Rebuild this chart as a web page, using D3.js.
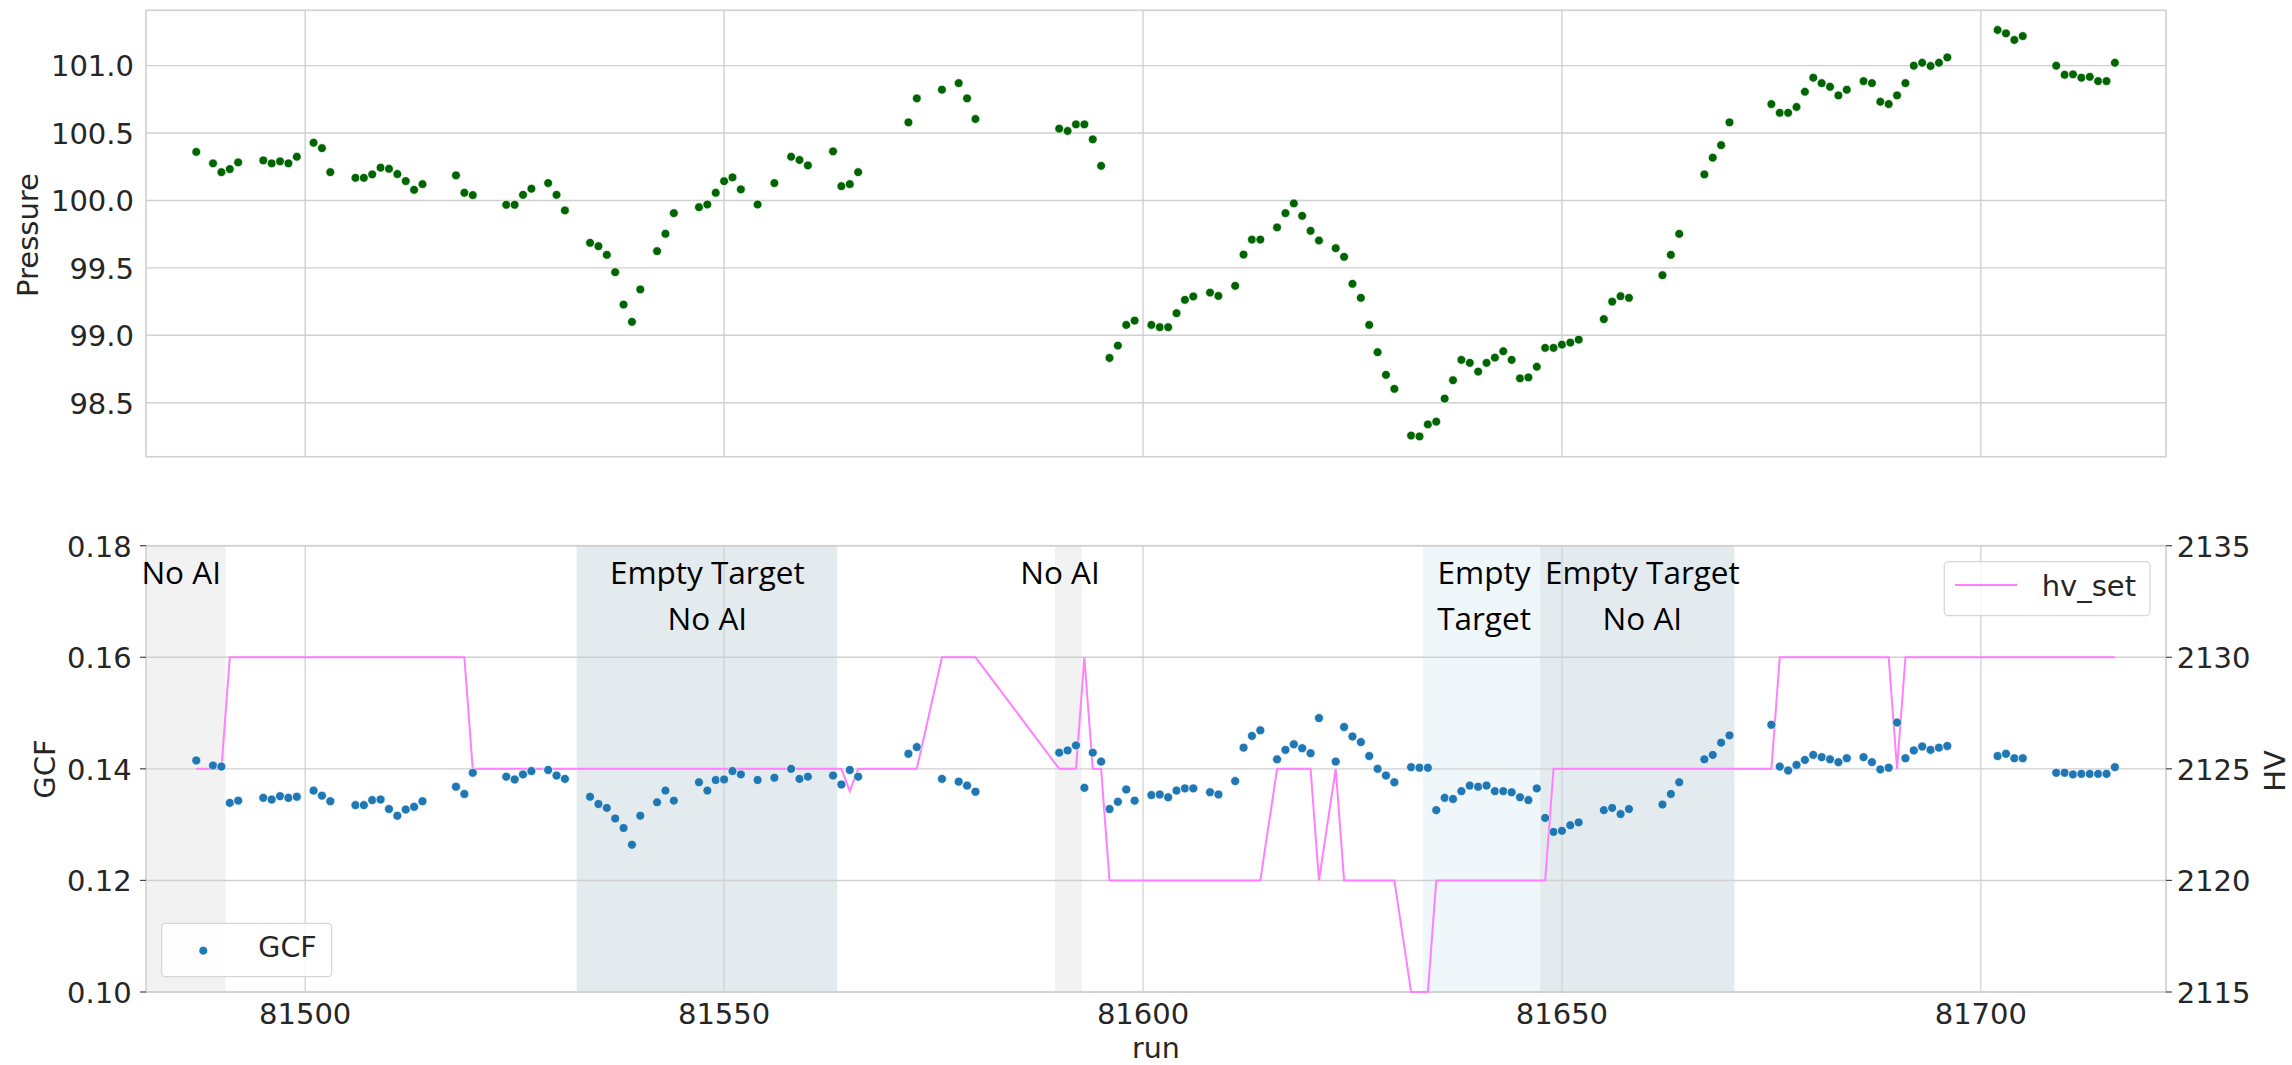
<!DOCTYPE html>
<html>
<head>
<meta charset="utf-8">
<script src="https://cdn.jsdelivr.net/npm/d3@7"></script>
<style>
  html, body { margin: 0; padding: 0; background: #ffffff; }
  svg { display: block; }
</style>
</head>
<body>
<svg id="chart" width="2292" height="1065"></svg>
<script>
// ---------------- DATA ----------------
const runs = [
  81487, 81489, 81490, 81491, 81492, 81495, 81496, 81497, 81498, 81499,
  81501, 81502, 81503, 81506, 81507, 81508, 81509, 81510, 81511, 81512,
  81513, 81514, 81518, 81519, 81520, 81524, 81525, 81526, 81527, 81529,
  81530, 81531, 81534, 81535, 81536, 81537, 81538, 81539, 81540, 81542,
  81543, 81544, 81547, 81548, 81549, 81550, 81551, 81552, 81554, 81556,
  81558, 81559, 81560, 81563, 81564, 81565, 81566, 81572, 81573, 81576,
  81578, 81579, 81580, 81590, 81591, 81592, 81593, 81594, 81595, 81596,
  81597, 81598, 81599, 81601, 81602, 81603, 81604, 81605, 81606, 81608,
  81609, 81611, 81612, 81613, 81614, 81616, 81617, 81618, 81619, 81620,
  81621, 81623, 81624, 81625, 81626, 81627, 81628, 81629, 81630, 81632,
  81633, 81634, 81635, 81636, 81637, 81638, 81639, 81640, 81641, 81642,
  81643, 81644, 81645, 81646, 81647, 81648, 81649, 81650, 81651, 81652,
  81655, 81656, 81657, 81658, 81662, 81663, 81664, 81667, 81668, 81669,
  81670, 81675, 81676, 81677, 81678, 81679, 81680, 81681, 81682, 81683,
  81684, 81686, 81687, 81688, 81689, 81690, 81691, 81692, 81693, 81694,
  81695, 81696, 81702, 81703, 81704, 81705, 81709, 81710, 81711, 81712,
  81713, 81714, 81715, 81716
];

const pressure = [
  100.36, 100.275, 100.21, 100.233, 100.282, 100.297, 100.275, 100.29, 100.275, 100.324,
  100.428, 100.388, 100.21, 100.168, 100.168, 100.193, 100.243, 100.235, 100.196, 100.144,
  100.079, 100.121, 100.186, 100.057, 100.04, 99.968, 99.968, 100.042, 100.087, 100.129,
  100.042, 99.926, 99.686, 99.661, 99.597, 99.468, 99.228, 99.10, 99.34, 99.624,
  99.753, 99.906, 99.95, 99.97, 100.057, 100.143, 100.171, 100.082, 99.97, 100.129,
  100.324, 100.30, 100.26, 100.364, 100.106, 100.121, 100.21, 100.579, 100.757, 100.821,
  100.87, 100.757, 100.604, 100.532, 100.515, 100.564, 100.564, 100.453, 100.257, 98.832,
  98.924, 99.077, 99.109, 99.077, 99.06, 99.06, 99.164, 99.263, 99.288, 99.317,
  99.292, 99.367, 99.599, 99.71, 99.71, 99.80, 99.906, 99.978, 99.886, 99.775,
  99.703, 99.646, 99.582, 99.382, 99.278, 99.077, 98.875, 98.707, 98.603, 98.257,
  98.25, 98.339, 98.36, 98.531, 98.667, 98.818, 98.796, 98.731, 98.796, 98.835,
  98.882, 98.818, 98.681, 98.688, 98.767, 98.907, 98.907, 98.931, 98.946, 98.968,
  99.12, 99.25, 99.29, 99.278, 99.446, 99.597, 99.752, 100.193, 100.317, 100.41,
  100.579, 100.715, 100.65, 100.65, 100.693, 100.806, 100.91, 100.87, 100.843, 100.779,
  100.821, 100.885, 100.87, 100.732, 100.715, 100.779, 100.87, 100.999, 101.021, 100.997,
  101.021, 101.061, 101.264, 101.239, 101.19, 101.219, 100.999, 100.932, 100.935, 100.91,
  100.917, 100.885, 100.885, 101.021
];

const gcf = [
  0.1415, 0.1406, 0.1404, 0.1339, 0.1343, 0.1348, 0.1345, 0.1351, 0.1348, 0.1350,
  0.1361, 0.1352, 0.1342, 0.1335, 0.1335, 0.1344, 0.1345, 0.1328, 0.1316, 0.1327,
  0.1332, 0.1342, 0.1368, 0.1355, 0.1393, 0.1386, 0.1381, 0.1390, 0.1396, 0.1398,
  0.1388, 0.1382, 0.1350, 0.1337, 0.1330, 0.1311, 0.1294, 0.1264, 0.1316, 0.1340,
  0.1361, 0.1343, 0.1376, 0.1361, 0.1380, 0.1381, 0.1396, 0.1390, 0.1380, 0.1384,
  0.1400, 0.1382, 0.1386, 0.1388, 0.1372, 0.1398, 0.1386, 0.1427, 0.1439, 0.1382,
  0.1377, 0.1370, 0.1359, 0.1429, 0.1433, 0.1442, 0.1366, 0.1429, 0.1413, 0.1328,
  0.1341, 0.1363, 0.1343, 0.1353, 0.1354, 0.1349, 0.1361, 0.1365, 0.1365, 0.1358,
  0.1354, 0.1378, 0.1438, 0.1459, 0.1469, 0.1417, 0.1434, 0.1444, 0.1437, 0.1428,
  0.1491, 0.1413, 0.1475, 0.1458, 0.1448, 0.1423, 0.1400, 0.1388, 0.1376, 0.1403,
  0.1402, 0.1402, 0.1326, 0.1348, 0.1346, 0.1360, 0.1370, 0.1368, 0.1370, 0.1360,
  0.1360, 0.1358, 0.1349, 0.1344, 0.1365, 0.1312, 0.1287, 0.1289, 0.1299, 0.1304,
  0.1326, 0.1330, 0.1319, 0.1328, 0.1336, 0.1355, 0.1376, 0.1417, 0.1425, 0.1447,
  0.1460, 0.1479, 0.1404, 0.1397, 0.1407, 0.1416, 0.1425, 0.1421, 0.1417, 0.1412,
  0.1419, 0.1421, 0.1412, 0.1399, 0.1402, 0.1483, 0.1419, 0.1433, 0.1440, 0.1434,
  0.1438, 0.1441, 0.1423, 0.1427, 0.1419, 0.1419, 0.1393, 0.1393, 0.1390, 0.1391,
  0.1391, 0.1391, 0.1391, 0.1403
];

const hvSet = [
  2125, 2125, 2125, 2130, 2130, 2130, 2130, 2130, 2130, 2130,
  2130, 2130, 2130, 2130, 2130, 2130, 2130, 2130, 2130, 2130,
  2130, 2130, 2130, 2130, 2125, 2125, 2125, 2125, 2125, 2125,
  2125, 2125, 2125, 2125, 2125, 2125, 2125, 2125, 2125, 2125,
  2125, 2125, 2125, 2125, 2125, 2125, 2125, 2125, 2125, 2125,
  2125, 2125, 2125, 2125, 2125, 2124, 2125, 2125, 2125, 2130,
  2130, 2130, 2130, 2125, 2125, 2125, 2130, 2125, 2125, 2120,
  2120, 2120, 2120, 2120, 2120, 2120, 2120, 2120, 2120, 2120,
  2120, 2120, 2120, 2120, 2120, 2125, 2125, 2125, 2125, 2125,
  2120, 2125, 2120, 2120, 2120, 2120, 2120, 2120, 2120, 2115,
  2115, 2115, 2120, 2120, 2120, 2120, 2120, 2120, 2120, 2120,
  2120, 2120, 2120, 2120, 2120, 2120, 2125, 2125, 2125, 2125,
  2125, 2125, 2125, 2125, 2125, 2125, 2125, 2125, 2125, 2125,
  2125, 2125, 2130, 2130, 2130, 2130, 2130, 2130, 2130, 2130,
  2130, 2130, 2130, 2130, 2130, 2125, 2130, 2130, 2130, 2130,
  2130, 2130, 2130, 2130, 2130, 2130, 2130, 2130, 2130, 2130,
  2130, 2130, 2130, 2130
];

// shaded run ranges and their annotations
const spanStarts = [81480, 81532.4, 81589.5, 81633.4, 81647.4];
const spanEnds   = [81490.5, 81563.5, 81592.7, 81647.4, 81670.6];
const spanKinds  = ["noai", "both", "noai", "empty", "both"];
const spanLabels = [["No AI"], ["Empty Target", "No AI"], ["No AI"], ["Empty", "Target"], ["Empty Target", "No AI"]];
const labelRuns  = [81485.2, 81548, 81590.1, 81640.7, 81659.6];

const runTicks = [81500, 81550, 81600, 81650, 81700];
const pressureTicks = [98.5, 99.0, 99.5, 100.0, 100.5, 101.0];
const gcfTicks = [0.10, 0.12, 0.14, 0.16, 0.18];
const hvTicks = [2115, 2120, 2125, 2130, 2135];

// ---------------- LAYOUT ----------------
const L = 146, R = 2166;
const topT = 10.3, topB = 456.7;
const botT = 545.7, botB = 992;

const FONT = "'DejaVu Sans', sans-serif";
const ANN_FONT = "'Open Sans', 'Noto Sans', sans-serif";
const TXT = "#262626";
const GRID = "#d0d0d0";

const svg = d3.select("#chart");
svg.append("rect").attr("width", 2292).attr("height", 1065).attr("fill", "#ffffff");

const x = d3.scaleLinear().domain([81481, 81722.1]).range([L, R]);
const yP = d3.scaleLinear().domain([98.1, 101.41]).range([topB, topT]);
const yG = d3.scaleLinear().domain([0.10, 0.18]).range([botB, botT]);
const yH = d3.scaleLinear().domain([2115, 2135]).range([botB, botT]);

const defs = svg.append("defs");
defs.append("clipPath").attr("id", "clipBot")
  .append("rect").attr("x", L).attr("y", botT - 2).attr("width", R - L).attr("height", botB - botT + 4);
defs.append("clipPath").attr("id", "clipBotSpan")
  .append("rect").attr("x", L).attr("y", botT).attr("width", R - L).attr("height", botB - botT);

// ================= TOP PANEL =================
const topPanel = svg.append("g");
topPanel.append("g").selectAll("line").data(pressureTicks).join("line")
  .attr("x1", L).attr("x2", R)
  .attr("y1", d => yP(d)).attr("y2", d => yP(d))
  .attr("stroke", GRID).attr("stroke-width", 1.4);
topPanel.append("g").selectAll("line").data(runTicks).join("line")
  .attr("x1", d => x(d)).attr("x2", d => x(d))
  .attr("y1", topT).attr("y2", topB)
  .attr("stroke", GRID).attr("stroke-width", 1.4);
topPanel.append("rect").attr("x", L).attr("y", topT).attr("width", R - L).attr("height", topB - topT)
  .attr("fill", "none").attr("stroke", GRID).attr("stroke-width", 1.6);
topPanel.append("g").selectAll("text").data(pressureTicks).join("text")
  .attr("x", 134).attr("y", d => yP(d) + 10.8)
  .attr("text-anchor", "end")
  .attr("font-family", FONT).attr("font-size", 29).attr("fill", TXT)
  .text(d => d3.format(".1f")(d));
topPanel.append("text")
  .attr("transform", "translate(37.5,235) rotate(-90)")
  .attr("text-anchor", "middle")
  .attr("font-family", FONT).attr("font-size", 29).attr("fill", TXT)
  .text("Pressure");
topPanel.append("g").selectAll("circle").data(runs).join("circle")
  .attr("cx", (d) => x(d))
  .attr("cy", (d, i) => yP(pressure[i]))
  .attr("r", 4.4)
  .attr("fill", "#006400")
  .attr("stroke", "#ffffff").attr("stroke-width", 0.7);

// ================= BOTTOM PANEL =================
const botPanel = svg.append("g");
const spanColor = { noai: "#f2f2f2", empty: "#eff7fa", both: "#e4ebee" };
botPanel.append("g").attr("clip-path", "url(#clipBotSpan)")
  .selectAll("rect").data(spanStarts).join("rect")
  .attr("x", d => x(d))
  .attr("width", (d, i) => x(spanEnds[i]) - x(d))
  .attr("y", botT).attr("height", botB - botT)
  .attr("fill", (d, i) => spanColor[spanKinds[i]]);

botPanel.append("g").selectAll("line").data(gcfTicks).join("line")
  .attr("x1", L).attr("x2", R)
  .attr("y1", d => yG(d)).attr("y2", d => yG(d))
  .attr("stroke", GRID).attr("stroke-width", 1.4);
botPanel.append("g").selectAll("line").data(runTicks).join("line")
  .attr("x1", d => x(d)).attr("x2", d => x(d))
  .attr("y1", botT).attr("y2", botB)
  .attr("stroke", GRID).attr("stroke-width", 1.4).attr("stroke-opacity", 0.9);
botPanel.append("rect").attr("x", L).attr("y", botT).attr("width", R - L).attr("height", botB - botT)
  .attr("fill", "none").attr("stroke", GRID).attr("stroke-width", 1.6);

botPanel.append("g").selectAll("line").data(gcfTicks).join("line")
  .attr("x1", 140).attr("x2", L)
  .attr("y1", d => yG(d)).attr("y2", d => yG(d))
  .attr("stroke", "#444").attr("stroke-width", 1.2);
botPanel.append("g").selectAll("text").data(gcfTicks).join("text")
  .attr("x", 131.7).attr("y", d => yG(d) + 10.8)
  .attr("text-anchor", "end")
  .attr("font-family", FONT).attr("font-size", 29).attr("fill", TXT)
  .text(d => d3.format(".2f")(d));
botPanel.append("g").selectAll("line").data(hvTicks).join("line")
  .attr("x1", R).attr("x2", R + 6)
  .attr("y1", d => yH(d)).attr("y2", d => yH(d))
  .attr("stroke", "#444").attr("stroke-width", 1.2);
botPanel.append("g").selectAll("text").data(hvTicks).join("text")
  .attr("x", 2176.7).attr("y", d => yH(d) + 10.8)
  .attr("text-anchor", "start")
  .attr("font-family", FONT).attr("font-size", 29).attr("fill", TXT)
  .text(d => d3.format("d")(d));
botPanel.append("g").selectAll("text").data(runTicks).join("text")
  .attr("x", d => x(d)).attr("y", 1024)
  .attr("text-anchor", "middle")
  .attr("font-family", FONT).attr("font-size", 29).attr("fill", TXT)
  .text(d => d3.format("d")(d));
botPanel.append("text").attr("x", (L + R) / 2).attr("y", 1058)
  .attr("text-anchor", "middle")
  .attr("font-family", FONT).attr("font-size", 28.5).attr("fill", TXT)
  .text("run");
botPanel.append("text")
  .attr("transform", "translate(55,769) rotate(-90)")
  .attr("text-anchor", "middle")
  .attr("font-family", FONT).attr("font-size", 29).attr("fill", TXT)
  .text("GCF");
botPanel.append("text")
  .attr("transform", "translate(2285,771) rotate(-90)")
  .attr("text-anchor", "middle")
  .attr("font-family", FONT).attr("font-size", 29).attr("fill", TXT)
  .text("HV");

const hvLine = d3.line()
  .x((d) => x(d))
  .y((d, i) => yH(hvSet[i]));
botPanel.append("path")
  .attr("clip-path", "url(#clipBot)")
  .attr("d", hvLine(runs))
  .attr("fill", "none")
  .attr("stroke", "#ff7fff")
  .attr("stroke-width", 2)
  .attr("stroke-linejoin", "miter");

botPanel.append("g").selectAll("circle").data(runs).join("circle")
  .attr("cx", (d) => x(d))
  .attr("cy", (d, i) => yG(gcf[i]))
  .attr("r", 4.5)
  .attr("fill", "#1f77b4")
  .attr("stroke", "#ffffff").attr("stroke-width", 0.7);

const ann = botPanel.append("g");
labelRuns.forEach((r, i) => {
  spanLabels[i].forEach((line, j) => {
    ann.append("text")
      .attr("x", x(r)).attr("y", 584.3 + j * 45.2)
      .attr("text-anchor", "middle")
      .attr("font-family", ANN_FONT).attr("font-size", 31.5).attr("fill", "#000000")
      .text(line);
  });
});

const lg1 = botPanel.append("g");
lg1.append("rect").attr("x", 161.7).attr("y", 923.3).attr("width", 170).attr("height", 53.4)
  .attr("rx", 4).attr("fill", "#ffffff").attr("fill-opacity", 0.8)
  .attr("stroke", "#d6d6d6").attr("stroke-width", 1.2);
lg1.append("circle").attr("cx", 203.3).attr("cy", 950.7).attr("r", 4.4)
  .attr("fill", "#1f77b4").attr("stroke", "#fff").attr("stroke-width", 0.7);
lg1.append("text").attr("x", 258.3).attr("y", 957.3)
  .attr("font-family", FONT).attr("font-size", 28.5).attr("fill", TXT).text("GCF");

const lg2 = botPanel.append("g");
lg2.append("rect").attr("x", 1944.3).attr("y", 561.7).attr("width", 205.7).attr("height", 54)
  .attr("rx", 4).attr("fill", "#ffffff").attr("fill-opacity", 0.8)
  .attr("stroke", "#d6d6d6").attr("stroke-width", 1.2);
lg2.append("line").attr("x1", 1955).attr("x2", 2017.3).attr("y1", 585).attr("y2", 585)
  .attr("stroke", "#ff7fff").attr("stroke-width", 2);
lg2.append("text").attr("x", 2041.7).attr("y", 595.5)
  .attr("font-family", FONT).attr("font-size", 29).attr("fill", TXT).text("hv_set");
</script>
</body>
</html>
